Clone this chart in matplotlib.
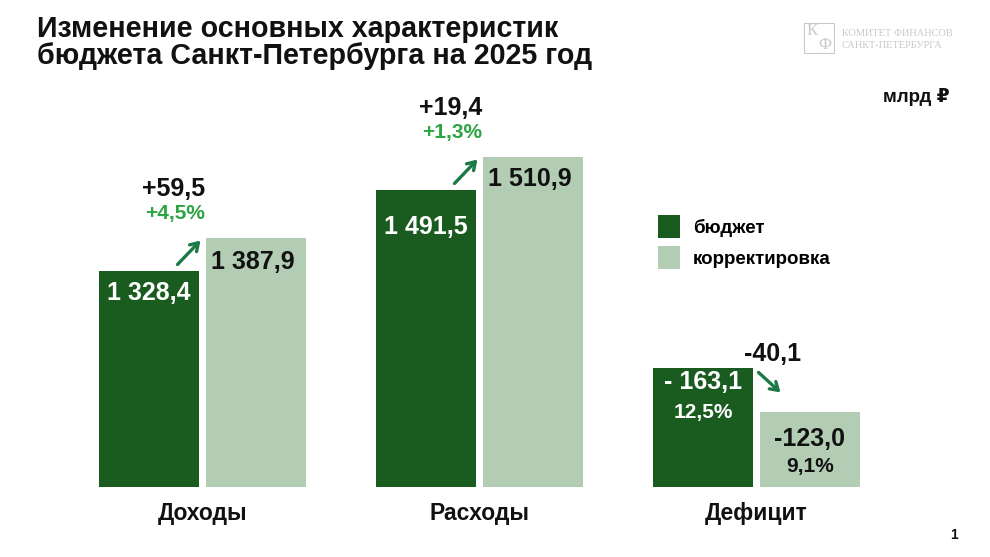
import matplotlib
matplotlib.use("Agg")
import matplotlib.pyplot as plt
from matplotlib.patches import Rectangle

# ---------- data ----------
CATEGORIES = ["Доходы", "Расходы", "Дефицит"]
SERIES = ["бюджет", "корректировка"]
BUDGET = [1328.4, 1491.5, -163.1]
REVISED = [1387.9, 1510.9, -123.0]
CHANGE = ["+59,5", "+19,4", "-40,1"]
CHANGE_PCT = ["+4,5%", "+1,3%"]
DEFICIT_SHARE = ["12,5%", "9,1%"]

# ---------- style ----------
DARK = "#1a5c20"
LIGHT = "#b3cdb5"
PCT_GREEN = "#2ca443"
ARROW = "#1d7a48"
INK = "#111111"
LOGO = "#c9c9c9"
FONT = ["Liberation Sans", "DejaVu Sans"]

plt.rcParams["font.family"] = FONT

W, H = 990, 557
# each group has its own (cut) value scale, as on the slide
YLIMS = [(940.7, 1638.5), (1319.0, 1544.5), (54.8, 409.8)]
XLIM = (-202.5 / 277, (W - 202.5) / 277)
BAR_W = 0.36
OFF = 0.193
ARROW_STYLE = dict(arrowstyle="->,head_length=0.55,head_width=0.35",
                   lw=2.4, color=ARROW, shrinkA=0, shrinkB=0)


def fx(px):
    return px / W


def fy(py):
    return 1 - py / H


def fmt(v):
    return f"{abs(v):,.1f}".replace(",", " ").replace(".", ",")


fig = plt.figure(figsize=(9.9, 5.57), dpi=100)

axes = []
for i in range(3):
    ax = fig.add_axes([0, fy(486.5), 1, 387 / H])
    ax.patch.set_alpha(0)
    ax.set_xlim(*XLIM)
    ax.set_ylim(*YLIMS[i])
    for s in ax.spines.values():
        s.set_visible(False)
    ax.set_yticks([])
    ax.set_xticks([])
    axes.append(ax)


def pixel_arrow(ax, anchor, tail, head):
    # arrow given as pixel offsets from a data anchor point
    x0, y0 = ax.transData.transform(anchor)
    inv = ax.transData.inverted()
    ax.annotate("", xy=inv.transform((x0 + head[0], y0 + head[1])),
                xytext=inv.transform((x0 + tail[0], y0 + tail[1])),
                arrowprops=ARROW_STYLE)


bars_b = bars_r = None
for i, ax in enumerate(axes):
    b, r = abs(BUDGET[i]), abs(REVISED[i])
    bars_b = ax.bar(i - OFF, b, BAR_W, color=DARK)
    bars_r = ax.bar(i + OFF, r, BAR_W, color=LIGHT)

    def lab(txt, xy, dx, dy, color=INK, size=18, ha="center"):
        ax.annotate(txt, xy, xytext=(dx, dy), textcoords="offset pixels",
                    ha=ha, va="center", fontsize=size, fontweight="bold",
                    color=color)

    if i < 2:
        lab(fmt(BUDGET[i]), (i - OFF, b), 0, [-22, -37][i], color="white")
        lab(fmt(REVISED[i]), (i + OFF, r), -3, [-24, -22][i])
        lab(CHANGE[i], (i, b), 3, 82, ha="right")
        lab(CHANGE_PCT[i], (i, b), 3, 58, color=PCT_GREEN, size=15, ha="right")
        pixel_arrow(ax, (i, b), (-25, 7), (-2, 31))
    else:
        lab("- " + fmt(BUDGET[i]), (i - OFF, b), 0, -14, color="white")
        lab(DEFICIT_SHARE[0], (i - OFF, b), 0, -44, color="white", size=15)
        lab("-" + fmt(REVISED[i]), (i + OFF, r), 0, -27)
        lab(DEFICIT_SHARE[1], (i + OFF, r), 0, -54, size=15)
        lab(CHANGE[i], (i, b), 16, 14)
        pixel_arrow(ax, (i, b), (2, -4), (24, -24))

axes[0].set_xticks(range(3), CATEGORIES, fontsize=16.5, fontweight="bold",
                   color=INK)
axes[0].tick_params(axis="x", length=0, pad=11)

# legend
fig.legend([bars_b, bars_r], SERIES, loc="upper left",
            bbox_to_anchor=(fx(658), fy(215)), frameon=False,
            prop=dict(family=FONT, weight="bold", size=13.5),
            handlelength=1.17, handleheight=1.5, handletextpad=0.7,
            labelspacing=0.45, borderpad=0, borderaxespad=0)

# title, units, page number
fig.text(fx(37), fy(29), "Изменение основных характеристик",
         fontsize=20.6, fontweight="bold", color=INK, va="center")
fig.text(fx(37), fy(56), "бюджета Санкт-Петербурга на 2025 год",
         fontsize=20.6, fontweight="bold", color=INK, va="center")
fig.text(fx(950), fy(97), "млрд ₽", fontsize=13.5, fontweight="bold",
         color=INK, ha="right", va="center")
fig.text(fx(958), fy(535), "1", fontsize=10, fontweight="bold",
         color=INK, ha="right", va="center")

# logo
fig.patches.append(Rectangle((fx(804), fy(53)), fx(30), 30 / H,
                             transform=fig.transFigure, fill=False,
                             edgecolor=LOGO, lw=0.8))
fig.text(fx(812), fy(31), "К", family="Liberation Serif", fontsize=12,
         color=LOGO, ha="center", va="center")
fig.text(fx(825), fy(45), "Ф", family="Liberation Serif", fontsize=12,
         color=LOGO, ha="center", va="center")
fig.text(fx(842), fy(33), "КОМИТЕТ ФИНАНСОВ", family="Liberation Serif",
         fontsize=7.5, color=LOGO, va="center")
fig.text(fx(842), fy(46), "САНКТ-ПЕТЕРБУРГА", family="Liberation Serif",
         fontsize=7.5, color=LOGO, va="center")

fig.savefig("out.png", dpi=100, facecolor="white")
